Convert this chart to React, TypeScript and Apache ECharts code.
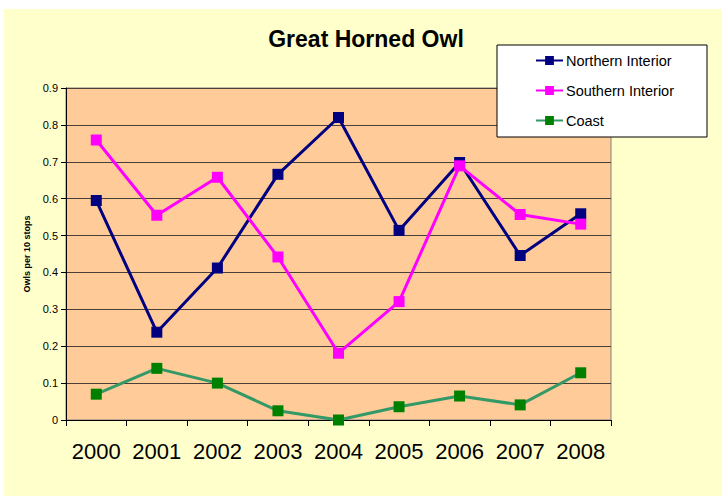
import React, { useEffect, useRef } from "react";
import * as echarts from "echarts";

const years = ["2000", "2001", "2002", "2003", "2004", "2005", "2006", "2007", "2008"];
const northernInterior = [0.595, 0.238, 0.412, 0.666, 0.82, 0.514, 0.698, 0.446, 0.559];
const southernInterior = [0.759, 0.555, 0.658, 0.442, 0.181, 0.321, 0.689, 0.557, 0.531];
const coast = [0.07, 0.14, 0.1, 0.025, 0.0, 0.036, 0.065, 0.041, 0.128];

const FONT = "'Liberation Sans', Arial, sans-serif";

export default function App() {
  const ref = useRef<HTMLDivElement>(null);
  useEffect(() => {
    if (!ref.current) return;
    const chart = echarts.init(ref.current, null, { renderer: "svg" });
    // chart div offset: left 4, top 9
    const mk = (name: string, data: number[], line: string, fill: string) => ({
      name,
      type: "line",
      data,
      symbol: "rect",
      symbolSize: 11,
      lineStyle: { color: line, width: 3 },
      itemStyle: { color: fill, borderWidth: 0 },
      emphasis: { disabled: true },
    });
    chart.setOption({
      animation: false,
      backgroundColor: "#FFFFCC",
      textStyle: { fontFamily: FONT },
      title: {
        text: "Great Horned Owl",
        left: 362,
        top: 18,
        padding: 0,
        textAlign: "center",
        textStyle: { fontFamily: FONT, fontWeight: "bold", fontSize: 23, color: "#000" },
      },
      legend: {
        orient: "vertical",
        left: 493,
        top: 36,
        backgroundColor: "#FFFFFF",
        borderColor: "#000000",
        borderWidth: 1,
        borderRadius: 0,
        padding: [8, 33, 9, 38],
        itemWidth: 27,
        itemHeight: 11,
        itemGap: 15,
        textStyle: { fontFamily: FONT, fontSize: 14.5, color: "#000", padding: [0, 0, 0, -2] },
        data: ["Northern Interior", "Southern Interior", "Coast"],
      },
      grid: {
        left: 62,
        top: 79,
        right: 111,
        bottom: 76,
        show: true,
        backgroundColor: "#FFCC99",
        borderColor: "#808080",
        borderWidth: 1,
        containLabel: false,
      },
      xAxis: {
        type: "category",
        data: years,
        boundaryGap: true,
        axisLine: { lineStyle: { color: "#000", width: 1 } },
        axisTick: { show: true, length: 6, interval: 0, lineStyle: { color: "#000" } },
        axisLabel: { fontFamily: FONT, fontSize: 22, color: "#000", margin: 20, interval: 0 },
        splitLine: { show: false },
      },
      yAxis: {
        type: "value",
        min: 0,
        max: 0.9,
        interval: 0.1,
        name: "Owls per 10 stops",
        nameLocation: "middle",
        nameGap: 35,
        nameTextStyle: { fontFamily: FONT, fontSize: 9, fontWeight: "bold", color: "#000" },
        axisLine: { show: true, lineStyle: { color: "#000", width: 1 } },
        axisTick: { show: true, length: 5, lineStyle: { color: "#000" } },
        axisLabel: {
          fontFamily: FONT,
          fontSize: 11,
          color: "#000",
          margin: 8,
          formatter: (v: number) => (v === 0 ? "0" : String(Math.round(v * 10) / 10)),
        },
        splitLine: { show: true, lineStyle: { color: "#4a4038", width: 1 } },
      },
      series: [
        mk("Northern Interior", northernInterior, "#000080", "#000080"),
        mk("Southern Interior", southernInterior, "#FF00FF", "#FF00FF"),
        mk("Coast", coast, "#339966", "#008000"),
      ],
    });
    return () => chart.dispose();
  }, []);
  return (
    <div style={{ position: "absolute", left: 0, top: 0, width: 722, height: 496, background: "#fff" }}>
      <div ref={ref} style={{ position: "absolute", left: 4, top: 9, width: 718, height: 487 }} />
    </div>
  );
}
